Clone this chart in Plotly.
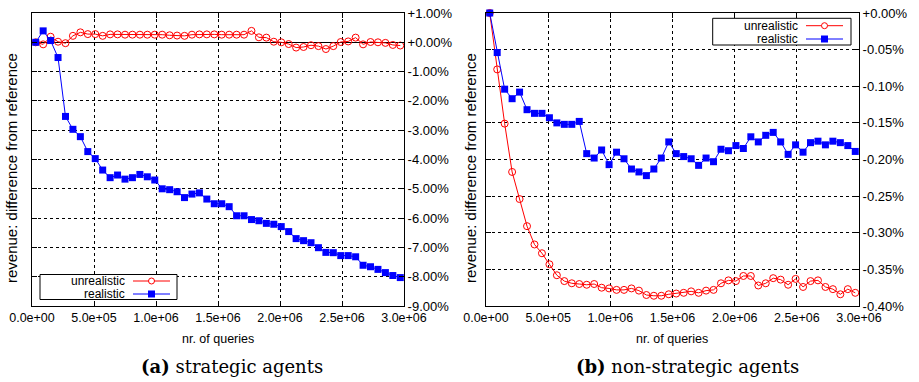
import plotly.graph_objects as go

W, H = 919, 382

# ---------------- data ----------------
queries = list(range(30000, 3000000, 60000))  # 50 sample points

strat_unrealistic = [0.00, -0.07, 0.19, 0.02, -0.03, 0.22, 0.34, 0.28, 0.28, 0.22,
                     0.27, 0.27, 0.26, 0.26, 0.26, 0.26, 0.26, 0.26, 0.24, 0.23,
                     0.22, 0.26, 0.27, 0.27, 0.27, 0.26, 0.26, 0.26, 0.26, 0.39,
                     0.17, 0.16, 0.02, 0.00, -0.06, -0.18, -0.16, -0.10, -0.13, -0.23,
                     -0.13, 0.01, 0.03, 0.16, -0.07, 0.01, 0.00, -0.02, -0.09, -0.11]
strat_realistic = [0.00, 0.39, 0.06, -0.52, -2.53, -2.97, -3.22, -3.73, -3.97, -4.36,
                   -4.62, -4.53, -4.67, -4.62, -4.51, -4.59, -4.70, -5.00, -5.03, -5.10,
                   -5.30, -5.18, -5.14, -5.35, -5.51, -5.51, -5.61, -5.92, -5.92, -6.05,
                   -6.09, -6.18, -6.21, -6.29, -6.46, -6.70, -6.77, -6.84, -7.01, -7.17,
                   -7.18, -7.28, -7.28, -7.32, -7.61, -7.66, -7.75, -7.86, -7.96, -8.03]

nonstrat_unrealistic = [0.000, -0.077, -0.151, -0.217, -0.254, -0.291, -0.316, -0.328, -0.343, -0.358,
                        -0.366, -0.369, -0.370, -0.371, -0.370, -0.375, -0.376, -0.378, -0.378, -0.376,
                        -0.379, -0.385, -0.386, -0.386, -0.384, -0.383, -0.382, -0.380, -0.382, -0.379,
                        -0.378, -0.369, -0.365, -0.366, -0.359, -0.359, -0.372, -0.369, -0.362, -0.364,
                        -0.371, -0.363, -0.374, -0.366, -0.365, -0.374, -0.377, -0.384, -0.377, -0.382]
nonstrat_realistic = [0.000, -0.054, -0.104, -0.117, -0.108, -0.132, -0.137, -0.137, -0.143, -0.150,
                      -0.152, -0.152, -0.148, -0.192, -0.198, -0.187, -0.207, -0.190, -0.199, -0.213,
                      -0.217, -0.222, -0.213, -0.198, -0.176, -0.192, -0.196, -0.199, -0.208, -0.198,
                      -0.203, -0.186, -0.188, -0.181, -0.185, -0.169, -0.176, -0.167, -0.163, -0.176,
                      -0.193, -0.180, -0.190, -0.177, -0.175, -0.180, -0.175, -0.177, -0.181, -0.189]

x_tickvals = [0, 500000, 1000000, 1500000, 2000000, 2500000, 3000000]
x_ticktext = ["0.0e+00", "5.0e+05", "1.0e+06", "1.5e+06", "2.0e+06", "2.5e+06", "3.0e+06"]
y1_tickvals = [1, 0, -1, -2, -3, -4, -5, -6, -7, -8, -9]
y1_ticktext = ["+1.00%", "+0.00%", "-1.00%", "-2.00%", "-3.00%", "-4.00%",
               "-5.00%", "-6.00%", "-7.00%", "-8.00%", "-9.00%"]
y2_tickvals = [0, -0.05, -0.10, -0.15, -0.20, -0.25, -0.30, -0.35, -0.40]
y2_ticktext = ["+0.00%", "-0.05%", "-0.10%", "-0.15%", "-0.20%", "-0.25%",
               "-0.30%", "-0.35%", "-0.40%"]

series_names = ["unrealistic", "realistic"]
RED, BLUE = "#ff0000", "#0000ff"
SANS = "Liberation Sans, Arial, sans-serif"
SERIF = "DejaVu Serif, Liberation Serif, serif"


def px(x):
    return x / W


def py(y):
    return 1 - y / H


fig = go.Figure()

for xa, ya, red, blue in [("x", "y", strat_unrealistic, strat_realistic),
                          ("x2", "y2", nonstrat_unrealistic, nonstrat_realistic)]:
    fig.add_trace(go.Scatter(x=queries, y=red, xaxis=xa, yaxis=ya, mode="lines+markers",
                             name=series_names[0], showlegend=False, cliponaxis=False,
                             line=dict(color=RED, width=1),
                             marker=dict(symbol="circle-open", size=7, color=RED,
                                         line=dict(color=RED, width=1))))
    fig.add_trace(go.Scatter(x=queries, y=blue, xaxis=xa, yaxis=ya, mode="lines+markers",
                             name=series_names[1], showlegend=False, cliponaxis=False,
                             line=dict(color=BLUE, width=1),
                             marker=dict(symbol="square", size=7, color=BLUE,
                                         line=dict(width=0))))

axis_common = dict(showline=True, linecolor="black", linewidth=1, mirror="ticks",
                   ticks="inside", ticklen=5, tickcolor="black", tickwidth=1,
                   showgrid=True, gridcolor="black", gridwidth=1, griddash="dot",
                   automargin=False,
                   tickfont=dict(family=SANS, size=12.5, color="black"))

xcommon = dict(axis_common, range=[0, 3000000], tickmode="array",
               tickvals=x_tickvals, ticktext=x_ticktext, zeroline=False)

fig.update_layout(
    width=W, height=H, margin=dict(l=0, r=0, t=0, b=0, autoexpand=False),
    paper_bgcolor="white", plot_bgcolor="white", showlegend=False,
    xaxis=dict(xcommon, domain=[px(32), px(404)], anchor="y"),
    yaxis=dict(axis_common, domain=[py(306), py(13)], anchor="x", side="right",
               range=[-9, 1], tickmode="array", tickvals=y1_tickvals, ticktext=y1_ticktext,
               zeroline=True, zerolinecolor="black", zerolinewidth=1,
               tickfont=dict(family=SANS, size=13, color="black")),
    xaxis2=dict(xcommon, domain=[px(486), px(859)], anchor="y2"),
    yaxis2=dict(axis_common, domain=[py(306), py(13)], anchor="x2", side="right",
                range=[-0.40, 0], tickmode="array", tickvals=y2_tickvals, ticktext=y2_ticktext,
                zeroline=False,
                tickfont=dict(family=SANS, size=13, color="black")),
)

annotations = []
shapes = []

# axis titles
for cx in (218, 672):
    annotations.append(dict(x=px(cx), y=py(339), xref="paper", yref="paper",
                            text="nr. of queries", showarrow=False,
                            font=dict(family=SANS, size=12.5, color="black"),
                            xanchor="center", yanchor="middle"))
for cx in (11, 470):
    annotations.append(dict(x=px(cx), y=py(168), xref="paper", yref="paper",
                            text="revenue: difference from reference", showarrow=False,
                            textangle=-90,
                            font=dict(family=SANS, size=15, color="black"),
                            xanchor="center", yanchor="middle"))

# captions
annotations.append(dict(x=px(232), y=py(366), xref="paper", yref="paper",
                        text="<b>(a)</b> strategic agents", showarrow=False,
                        font=dict(family=SERIF, size=18, color="black"),
                        xanchor="center", yanchor="middle"))
annotations.append(dict(x=px(687), y=py(366), xref="paper", yref="paper",
                        text="<b>(b)</b> non-strategic agents", showarrow=False,
                        font=dict(family=SERIF, size=18, color="black"),
                        xanchor="center", yanchor="middle"))


# custom gnuplot-style legends (text, then sample)
def add_legend(box, text_right, s0, s1, ys):
    x0, x1, y0, y1 = box
    shapes.append(dict(type="rect", xref="paper", yref="paper",
                       x0=px(x0), x1=px(x1), y0=py(y1), y1=py(y0),
                       line=dict(color="black", width=1), fillcolor="white", layer="above"))
    for name, color, yy, kind in [(series_names[0], RED, ys[0], "circle"),
                                  (series_names[1], BLUE, ys[1], "square")]:
        annotations.append(dict(x=px(text_right), y=py(yy), xref="paper", yref="paper",
                                text=name, showarrow=False,
                                font=dict(family=SANS, size=12, color="black"),
                                xanchor="right", yanchor="middle", borderpad=0))
        shapes.append(dict(type="line", xref="paper", yref="paper",
                           x0=px(s0), x1=px(s1), y0=py(yy), y1=py(yy),
                           line=dict(color=color, width=1), layer="above"))
        mx = (s0 + s1) / 2
        if kind == "circle":
            shapes.append(dict(type="circle", xref="paper", yref="paper",
                               x0=px(mx - 3), x1=px(mx + 3), y0=py(yy + 3), y1=py(yy - 3),
                               line=dict(color=color, width=1), fillcolor="white", layer="above"))
        else:
            shapes.append(dict(type="rect", xref="paper", yref="paper",
                               x0=px(mx - 3.5), x1=px(mx + 3.5), y0=py(yy + 3.5), y1=py(yy - 3.5),
                               line=dict(width=0), fillcolor=color, layer="above"))


add_legend((40, 177, 274.5, 299.5), 126, 133, 170, (281, 294))
add_legend((712.7, 851, 18.3, 45), 799, 806, 843, (25.7, 39))

fig.update_layout(annotations=annotations, shapes=shapes)

fig.write_html("out.html")
